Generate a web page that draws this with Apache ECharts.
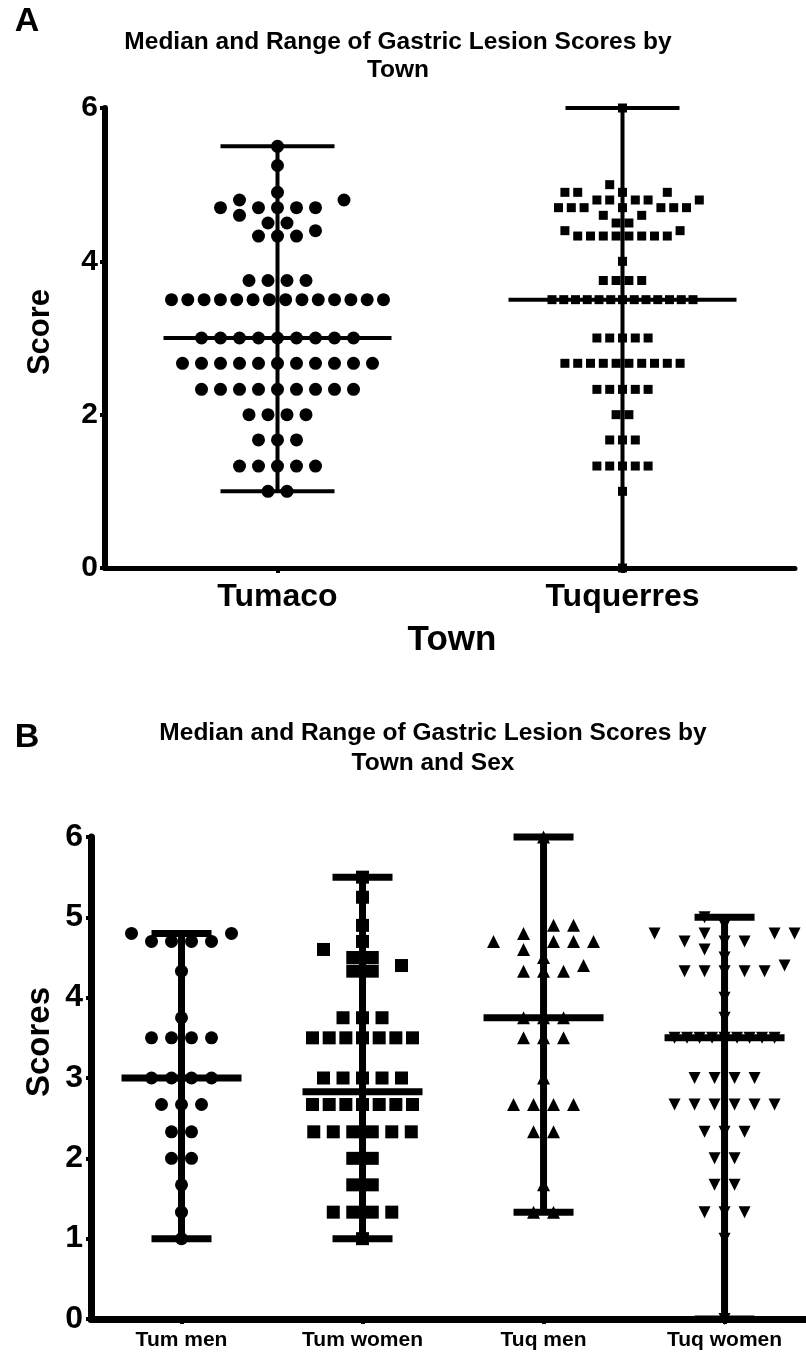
<!DOCTYPE html>
<html>
<head>
<meta charset="utf-8">
<script src="https://cdn.jsdelivr.net/npm/echarts@6/dist/echarts.min.js"></script>
<style>
  html, body { margin: 0; padding: 0; background: #fff; }
  #chart { width: 806px; height: 1355px; }
</style>
</head>
<body>
<div id="chart"></div>
<script>
// ---------------- DATA ----------------
const catsA = ['Tumaco', 'Tuquerres'];
const tumaco = [
  5.5, 5.25, 4.9, 4.8, 4.8,
  4.7, 4.7, 4.7, 4.7, 4.7, 4.6, 4.5, 4.5, 4.4, 4.33, 4.33, 4.33,
  3.75, 3.75, 3.75, 3.75,
  3.5, 3.5, 3.5, 3.5, 3.5, 3.5, 3.5, 3.5, 3.5, 3.5, 3.5, 3.5, 3.5, 3.5,
  3.0, 3.0, 3.0, 3.0, 3.0, 3.0, 3.0, 3.0, 3.0,
  2.67, 2.67, 2.67, 2.67, 2.67, 2.67, 2.67, 2.67, 2.67, 2.67, 2.67,
  2.33, 2.33, 2.33, 2.33, 2.33, 2.33, 2.33, 2.33, 2.33,
  2.0, 2.0, 2.0, 2.0,
  1.67, 1.67, 1.67,
  1.33, 1.33, 1.33, 1.33, 1.33,
  1.0, 1.0
];
const tuquerres = [
  6.0, 5.0, 4.9, 4.9, 4.9, 4.9,
  4.8, 4.8, 4.8, 4.8, 4.8,
  4.7, 4.7, 4.7, 4.7, 4.7, 4.7, 4.7, 4.6, 4.6, 4.5, 4.5, 4.4, 4.4,
  4.33, 4.33, 4.33, 4.33, 4.33, 4.33, 4.33, 4.33,
  4.0, 3.75, 3.75, 3.75, 3.75,
  3.5, 3.5, 3.5, 3.5, 3.5, 3.5, 3.5, 3.5, 3.5, 3.5, 3.5, 3.5, 3.5,
  3.0, 3.0, 3.0, 3.0, 3.0,
  2.67, 2.67, 2.67, 2.67, 2.67, 2.67, 2.67, 2.67, 2.67, 2.67,
  2.33, 2.33, 2.33, 2.33, 2.33,
  2.0, 2.0, 1.67, 1.67, 1.67,
  1.33, 1.33, 1.33, 1.33, 1.33,
  1.0, 0.0
];
const mediansA = [3.0, 3.5];
const yTicksA = [0, 2, 4, 6];

const catsB = ['Tum men', 'Tum women', 'Tuq men', 'Tuq women'];
const tumMen = [
  4.8, 4.8, 4.7, 4.7, 4.7, 4.7, 4.33, 3.75,
  3.5, 3.5, 3.5, 3.5, 3.0, 3.0, 3.0, 3.0,
  2.67, 2.67, 2.67, 2.33, 2.33, 2.0, 2.0, 1.67, 1.33, 1.0
];
const tumWomen = [
  5.5, 5.25, 4.9, 4.7, 4.6, 4.5, 4.5, 4.4, 4.33, 4.33,
  3.75, 3.75, 3.75,
  3.5, 3.5, 3.5, 3.5, 3.5, 3.5, 3.5,
  3.0, 3.0, 3.0, 3.0, 3.0,
  2.67, 2.67, 2.67, 2.67, 2.67, 2.67, 2.67,
  2.33, 2.33, 2.33, 2.33, 2.33, 2.33,
  2.0, 2.0, 1.67, 1.67, 1.33, 1.33, 1.33, 1.33, 1.0
];
const tuqMen = [
  6.0, 4.9, 4.9, 4.8, 4.7, 4.7, 4.7, 4.7, 4.6, 4.5, 4.4,
  4.33, 4.33, 4.33, 3.75, 3.75, 3.75, 3.5, 3.5, 3.5,
  3.0, 2.67, 2.67, 2.67, 2.67, 2.33, 2.33, 1.67, 1.33, 1.33
];
const tuqWomen = [
  5.0, 4.9, 4.8, 4.8, 4.8, 4.8, 4.7, 4.7, 4.7, 4.6, 4.5, 4.4,
  4.33, 4.33, 4.33, 4.33, 4.33, 4.0, 3.75,
  3.5, 3.5, 3.5, 3.5, 3.5, 3.5, 3.5, 3.5, 3.5,
  3.0, 3.0, 3.0, 3.0,
  2.67, 2.67, 2.67, 2.67, 2.67, 2.67,
  2.33, 2.33, 2.33, 2.0, 2.0, 1.67, 1.67,
  1.33, 1.33, 1.33, 1.0, 0.0
];
const mediansB = [3.0, 2.83, 3.75, 3.5];
const yTicksB = [0, 1, 2, 3, 4, 5, 6];

// ---------------- LAYOUT ----------------
const FONT = '"Liberation Sans", Arial, Helvetica, sans-serif';
const gridA = { left: 105, top: 108, width: 690, height: 460 };
const gridB = { left: 91, top: 837, width: 715, height: 482 };
const xRangeA = [-0.5, 1.5];
const xRangeB = [-0.5, 3.45];
const scaleA = { px: gridA.width / (xRangeA[1] - xRangeA[0]), py: gridA.height / (yTicksA[yTicksA.length - 1] - yTicksA[0]) };
const scaleB = { px: gridB.width / (xRangeB[1] - xRangeB[0]), py: gridB.height / (yTicksB[yTicksB.length - 1] - yTicksB[0]) };

// beeswarm: rows of equal values spread on half-slot grid; rows placed bottom-up,
// each point takes the free slot nearest the centre (ties go to the lighter side)
function swarm(values, center, slot, symSize, maxSpanPx, sc) {
  const counts = {};
  values.forEach(v => { counts[v] = (counts[v] || 0) + 1; });
  const rows = Object.keys(counts).map(Number).sort((a, b) => a - b);
  const placed = [];
  const out = [];
  let bias = 0;
  rows.forEach(v => {
    const n = counts[v];
    let sp = slot;
    if (n > 1 && (n - 1) * sp > maxSpanPx) sp = maxSpanPx / (n - 1);
    const yPx = v * sc.py;
    for (let i = 0; i < n; i++) {
      const cands = [];
      for (let k = -60; k <= 60; k++) {
        const c = k * sp / 2;
        const parityOk = (n % 2 === 1) ? (k % 2 === 0) : (Math.abs(k) % 2 === 1);
        const side = (c !== 0 && Math.sign(c) === Math.sign(bias || -1)) ? 0.01 : 0;
        cands.push({ c: c, cost: Math.abs(c) + (parityOk ? 0 : sp * 0.75) + side });
      }
      cands.sort((a, b) => a.cost - b.cost);
      let chosen = 0;
      for (const cd of cands) {
        const c = cd.c;
        const hit = placed.some(p => {
          if (p.v === v) return Math.abs(p.x - c) < sp * 0.99;
          return Math.abs(p.x - c) < slot * 0.95 && Math.abs(p.y - yPx) < symSize * 0.9;
        });
        if (!hit) { chosen = c; break; }
      }
      bias += chosen;
      placed.push({ x: chosen, y: yPx, v: v });
      out.push([center + chosen / sc.px, v]);
    }
  });
  return out;
}

function stats(groups, medians) {
  return groups.map((g, i) => [i, Math.min(...g), medians[i], Math.max(...g)]);
}

function barsSeries(data, xi, capHalf, medHalf, lw, medLw) {
  return {
    type: 'custom', xAxisIndex: xi, yAxisIndex: xi, data: data, clip: false, z: 5,
    renderItem: function (params, api) {
      const x = api.value(0);
      const lo = api.coord([x, api.value(1)]);
      const med = api.coord([x, api.value(2)]);
      const hi = api.coord([x, api.value(3)]);
      const st = { stroke: '#000', lineWidth: lw };
      return {
        type: 'group',
        children: [
          { type: 'line', shape: { x1: lo[0], y1: lo[1], x2: hi[0], y2: hi[1] }, style: st },
          { type: 'line', shape: { x1: hi[0] - capHalf, y1: hi[1], x2: hi[0] + capHalf, y2: hi[1] }, style: st },
          { type: 'line', shape: { x1: lo[0] - capHalf, y1: lo[1], x2: lo[0] + capHalf, y2: lo[1] }, style: st },
          { type: 'line', shape: { x1: med[0] - medHalf, y1: med[1], x2: med[0] + medHalf, y2: med[1] }, style: { stroke: '#000', lineWidth: medLw } }
        ]
      };
    }
  };
}

function scatter(data, xi, symbol, size, rotate) {
  return {
    type: 'scatter', xAxisIndex: xi, yAxisIndex: xi, data: data,
    symbol: symbol, symbolSize: size, symbolRotate: rotate || 0,
    itemStyle: { color: '#000', opacity: 1 }, z: 4, silent: true, animation: false
  };
}

function xAxis(gi, range, cats, fontSize, margin, lw) {
  const vals = cats.map((c, i) => i);
  return {
    type: 'value', gridIndex: gi, min: range[0], max: range[1],
    axisLine: { show: true, onZero: false, lineStyle: { color: '#000', width: lw } },
    axisTick: { show: true, customValues: vals, length: 5, lineStyle: { color: '#000', width: 4 } },
    axisLabel: {
      show: true, customValues: vals, margin: margin,
      formatter: v => cats[Math.round(v)],
      color: '#000', fontWeight: 'bold', fontSize: fontSize, fontFamily: FONT
    },
    splitLine: { show: false }
  };
}

function yAxis(gi, ticks, fontSize, margin, lw) {
  return {
    type: 'value', gridIndex: gi, min: ticks[0], max: ticks[ticks.length - 1],
    interval: ticks[1] - ticks[0],
    axisLine: { show: true, onZero: false, lineStyle: { color: '#000', width: lw } },
    axisTick: { show: true, length: 5, lineStyle: { color: '#000', width: 4 } },
    axisLabel: { margin: margin, color: '#000', fontWeight: 'bold', fontSize: fontSize, fontFamily: FONT },
    splitLine: { show: false }
  };
}

function txt(x, y, text, size, opts, lh) {
  return Object.assign({
    type: 'text', x: x, y: y, silent: true,
    style: {
      text: text, fill: '#000', font: 'bold ' + size + 'px ' + FONT,
      textAlign: 'center', textVerticalAlign: 'middle', lineHeight: lh || Math.round(size * 1.3)
    }
  }, opts || {});
}

const chart = echarts.init(document.getElementById('chart'), null, { renderer: 'canvas' });
chart.setOption({
  animation: false,
  backgroundColor: '#fff',
  grid: [
    Object.assign({ containLabel: false }, gridA),
    Object.assign({ containLabel: false }, gridB)
  ],
  xAxis: [
    xAxis(0, xRangeA, catsA, 32, 13, 5),
    xAxis(1, xRangeB, catsB, 21, 11, 7)
  ],
  yAxis: [
    yAxis(0, yTicksA, 30, 7, 6),
    yAxis(1, yTicksB, 32, 8, 7)
  ],
  graphic: [
    txt(27, 22, 'A', 34),
    txt(398, 56, 'Median and Range of Gastric Lesion Scores by\nTown', 24.5, null, 28),
    txt(40, 332, 'Score', 31, { rotation: Math.PI / 2 }),
    txt(452, 640, 'Town', 35),
    txt(27, 738, 'B', 34),
    txt(433, 748, 'Median and Range of Gastric Lesion Scores by\nTown and Sex', 24.5, null, 30),
    txt(40, 1042, 'Scores', 33, { rotation: Math.PI / 2 })
  ],
  series: [
    scatter(swarm(tumaco, 0, 19, 13, 212, scaleA), 0, 'circle', 13),
    scatter(swarm(tuquerres, 1, 12.8, 9, 141, scaleA), 0, 'rect', 9),
    barsSeries(stats([tumaco, tuquerres], mediansA), 0, 57, 114, 4, 4),
    scatter(swarm(tumMen, 0, 20, 13, 100, scaleB), 1, 'circle', 13),
    scatter(swarm(tumWomen, 1, 19.5, 13, 100, scaleB), 1, 'rect', 13),
    scatter(swarm(tuqMen, 2, 20, 13, 100, scaleB), 1, 'triangle', 13),
    scatter(swarm(tuqWomen, 3, 20, 12, 100, scaleB), 1, 'triangle', 12, 180),
    barsSeries(stats([tumMen, tumWomen, tuqMen, tuqWomen], mediansB), 1, 30, 60, 7, 7)
  ]
});
</script>
</body>
</html>
